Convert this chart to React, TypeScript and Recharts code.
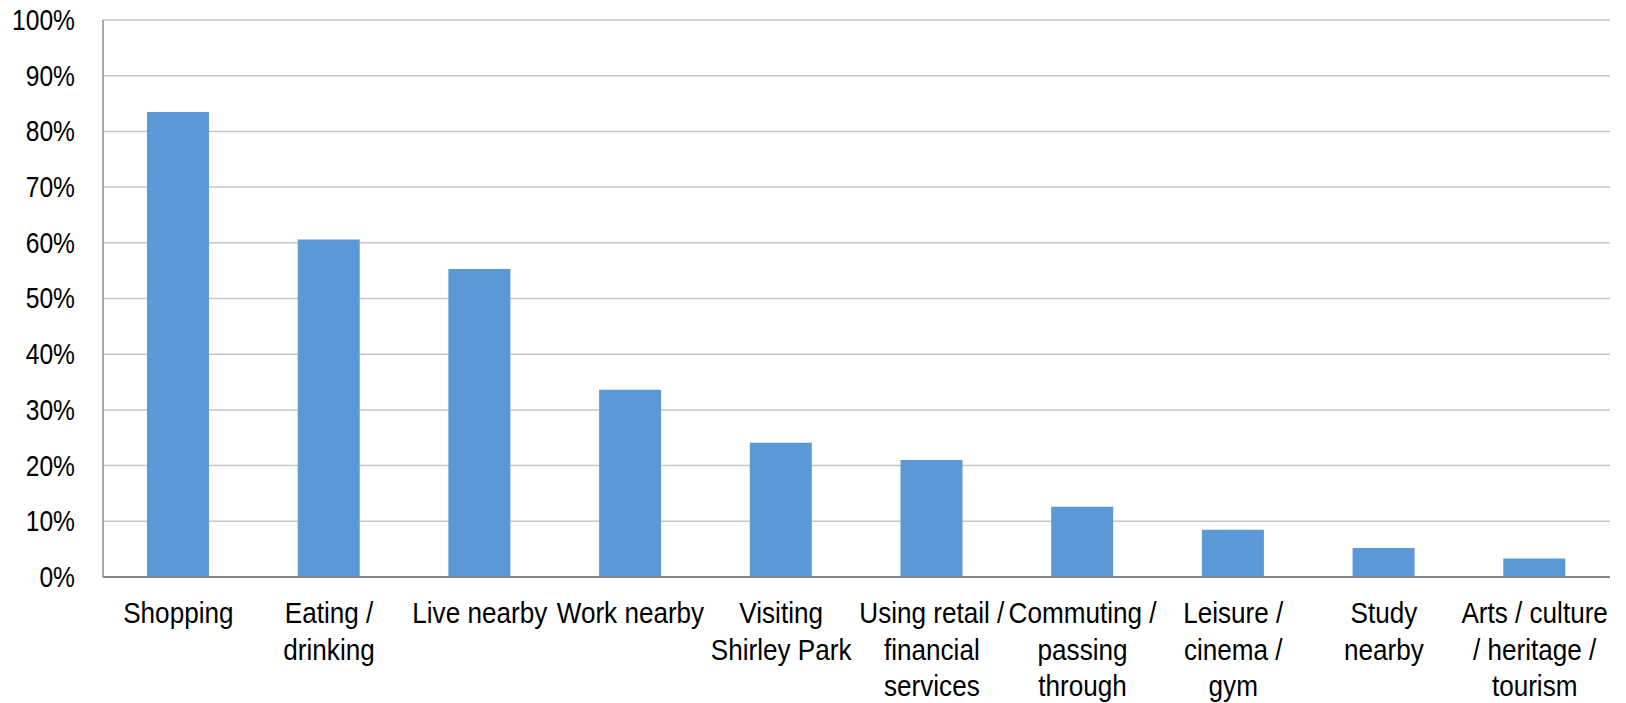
import { Bar, BarChart, CartesianGrid, XAxis, YAxis } from "recharts";

const categories = [
  "Shopping",
  "Eating /\ndrinking",
  "Live nearby",
  "Work nearby",
  "Visiting\nShirley Park",
  "Using retail /\nfinancial\nservices",
  "Commuting /\npassing\nthrough",
  "Leisure /\ncinema /\ngym",
  "Study\nnearby",
  "Arts / culture\n/ heritage /\ntourism",
];

const shares = [83.5, 60.6, 55.3, 33.6, 24.1, 21.0, 12.6, 8.5, 5.2, 3.3];

const yTicks = [0, 10, 20, 30, 40, 50, 60, 70, 80, 90, 100];

const data = categories.map((name, i) => ({ name, share: shares[i] }));

const FONT = '"Liberation Sans", Arial, sans-serif';

// no Arial Narrow installed, so squeeze the regular face around the anchor x
const squeeze = (ax: number, k: number) => `matrix(${k} 0 0 1 ${ax * (1 - k)} 0)`;

function CategoryTick({ x, y, payload }: any) {
  const lines = String(payload.value).split("\n");
  return (
    <text
      x={x}
      y={y}
      textAnchor="middle"
      fontFamily={FONT}
      fontSize={30}
      fill="#000"
      transform={squeeze(x, 0.87)}
    >
      {lines.map((line, i) => (
        <tspan key={i} x={x} y={y + 38 + i * 36.7}>
          {line}
        </tspan>
      ))}
    </text>
  );
}

function PercentTick({ x, y, payload }: any) {
  const ax = x - 20;
  return (
    <text
      x={ax}
      y={y + 10}
      textAnchor="end"
      fontFamily={FONT}
      fontSize={30}
      fill="#000"
      transform={squeeze(ax, 0.82)}
    >
      {payload.value}%
    </text>
  );
}

export default function App() {
  return (
    <div style={{ position: "absolute", left: 0, top: 0, background: "#fff" }}>
      <BarChart
        width={1626}
        height={703}
        data={data}
        margin={{ top: 20, right: 16, bottom: 0, left: 0 }}
      >
        <CartesianGrid vertical={false} stroke="#c6c6c6" strokeWidth={1.5} />
        <XAxis
          dataKey="name"
          interval={0}
          height={126}
          tickLine={false}
          axisLine={{ stroke: "#868686", strokeWidth: 2 }}
          tick={<CategoryTick />}
        />
        <YAxis
          width={103}
          domain={[0, 100]}
          ticks={yTicks}
          tickLine={false}
          axisLine={{ stroke: "#8c8c8c", strokeWidth: 1.5 }}
          tick={<PercentTick />}
        />
        <Bar dataKey="share" fill="#5a98d8" barSize={62} isAnimationActive={false} />
      </BarChart>
    </div>
  );
}
